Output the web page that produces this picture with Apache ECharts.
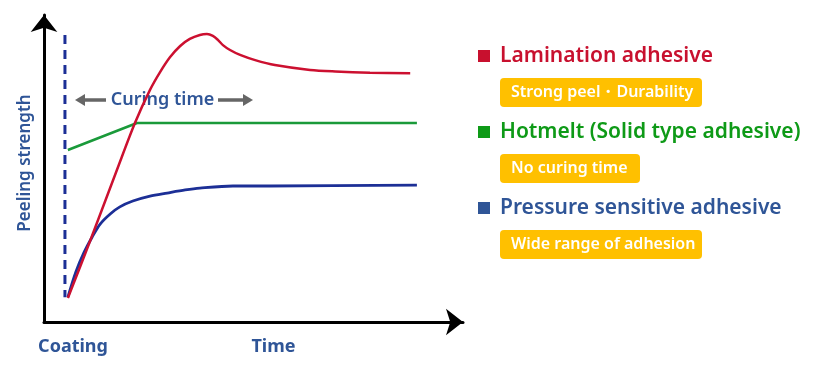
<!DOCTYPE html>
<html>
<head>
<meta charset="utf-8">
<script src="https://cdn.jsdelivr.net/npm/echarts@6/dist/echarts.min.js"></script>
<style>html,body{margin:0;padding:0;background:#fff}#c{width:820px;height:366px}</style>
</head>
<body>
<div id="c"></div>
<script>
// Data (time 0-100, strength 0-100, arbitrary units)
const laminationX = [5.7, 11.0, 17.4, 21.7, 25.3, 27.7, 30.1, 32.5, 34.8, 37.2, 38.9, 40.3, 41.5, 42.7, 44.4, 46.8, 50.4, 55.1, 63.5, 69.5, 77.8, 87.4];
const laminationY = [7.8, 26.4, 49.5, 64.8, 75.6, 81.4, 86.3, 89.9, 92.2, 93.5, 93.8, 93.2, 91.9, 90.2, 88.6, 87.0, 85.3, 83.7, 82.1, 81.6, 81.2, 81.0];
const hotmeltX = [5.7, 22.2, 89.0];
const hotmeltY = [56.0, 64.8, 64.8];
const pressureX = [5.7, 7.6, 9.5, 11.5, 13.4, 15.8, 18.1, 21.2, 25.3, 29.4, 33.7, 37.2, 45.1, 53.9, 89.0];
const pressureY = [8.1, 16.3, 22.5, 27.7, 31.9, 35.2, 37.5, 39.4, 41.0, 42.0, 43.0, 43.6, 44.3, 44.3, 44.6];
const coatingX = [5.0, 5.0];
const coatingY = [93.5, 8.1];
const seriesNames = ['Lamination adhesive', 'Hotmelt (Solid type adhesive)', 'Pressure sensitive adhesive'];
const tagTexts = ['Strong peel\u30FBDurability', 'No curing time', 'Wide range of adhesion'];
const axisLabels = ['Coating', 'Time', 'Peeling strength', 'Curing time'];

const zip = (xs, ys) => xs.map((x, i) => [x, ys[i]]);
const RED = '#cc1030', GREEN = '#1a9a3a', NAVY = '#1c2f96';
const TXT_BLUE = '#2f5597';
const LEG_COL = ['#c8102e', '#0e9a17', '#2f5597'];
const FONT = '"Noto Sans", "Open Sans", sans-serif';

const chart = echarts.init(document.getElementById('c'), null, {renderer: 'canvas'});

const graphics = [];
graphics.push({type: 'text', x: 25, y: 163, rotation: Math.PI / 2,
  style: {text: axisLabels[2], fill: TXT_BLUE, font: '600 17px ' + FONT, textAlign: 'center', textVerticalAlign: 'middle'}});
graphics.push({type: 'text', x: 73, y: 347,
  style: {text: axisLabels[0], fill: TXT_BLUE, font: 'bold 18px ' + FONT, textAlign: 'center', textVerticalAlign: 'middle'}});
graphics.push({type: 'text', x: 273.5, y: 347,
  style: {text: axisLabels[1], fill: TXT_BLUE, font: 'bold 18px ' + FONT, textAlign: 'center', textVerticalAlign: 'middle'}});
graphics.push({type: 'text', x: 162.5, y: 100,
  style: {text: axisLabels[3], fill: TXT_BLUE, font: '600 18px ' + FONT, textAlign: 'center', textVerticalAlign: 'middle'}});
graphics.push({type: 'line', shape: {x1: 82, y1: 100, x2: 106, y2: 100}, style: {stroke: '#666', lineWidth: 3.5}});
graphics.push({type: 'polygon', shape: {points: [[75, 100], [85, 94], [85, 106]]}, style: {fill: '#666'}});
graphics.push({type: 'line', shape: {x1: 218, y1: 100, x2: 246, y2: 100}, style: {stroke: '#666', lineWidth: 3.5}});
graphics.push({type: 'polygon', shape: {points: [[253, 100], [243, 94], [243, 106]]}, style: {fill: '#666'}});

const legTop = [56, 132, 208];
const tagW = [202, 140, 202];
for (let i = 0; i < 3; i++) {
  const y = legTop[i];
  graphics.push({type: 'rect', shape: {x: 478, y: y - 6, width: 12, height: 12}, style: {fill: LEG_COL[i]}});
  graphics.push({type: 'text', x: 500, y: y,
    style: {text: seriesNames[i], fill: LEG_COL[i], font: '600 21px ' + FONT, textVerticalAlign: 'middle'}});
  graphics.push({type: 'rect', shape: {x: 500, y: y + 22, width: tagW[i], height: 29, r: 4}, style: {fill: '#ffc000'}});
  graphics.push({type: 'text', x: 511, y: y + 36.5,
    style: {text: tagTexts[i], fill: '#fff', font: '600 16px ' + FONT, textVerticalAlign: 'middle'}});
}

const hiddenAxis = {
  type: 'value', min: 0, max: 100,
  axisLabel: {show: false}, axisTick: {show: false}, splitLine: {show: false},
  axisLine: {show: true, symbol: ['none', 'arrow'], symbolSize: [20, 17], lineStyle: {color: '#000', width: 3}}
};

chart.setOption({
  animation: false,
  grid: {left: 44, right: 357, top: 15, bottom: 44},
  xAxis: Object.assign({}, hiddenAxis),
  yAxis: Object.assign({}, hiddenAxis),
  graphic: graphics,
  series: [
    {name: 'coating', type: 'line', data: zip(coatingX, coatingY), symbol: 'none',
      lineStyle: {color: NAVY, width: 3, type: [9, 6]}, z: 1},
    {name: seriesNames[1], type: 'line', data: zip(hotmeltX, hotmeltY), symbol: 'none',
      lineStyle: {color: GREEN, width: 2.6}},
    {name: seriesNames[2], type: 'line', data: zip(pressureX, pressureY), symbol: 'none', smooth: 0.3,
      lineStyle: {color: NAVY, width: 2.8}},
    {name: seriesNames[0], type: 'line', data: zip(laminationX, laminationY), symbol: 'none', smooth: 0.3,
      lineStyle: {color: RED, width: 2.5}}
  ]
});
</script>
</body>
</html>
